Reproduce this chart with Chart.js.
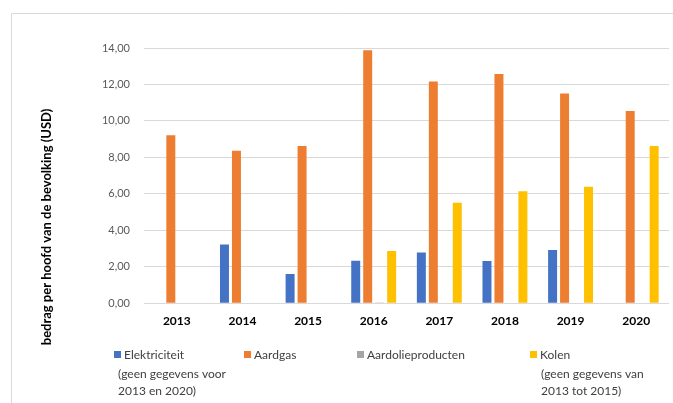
<!DOCTYPE html>
<html>
<head>
<meta charset="utf-8">
<script src="https://cdn.jsdelivr.net/npm/chart.js@4/dist/chart.umd.min.js"></script>
<style>
  html, body { margin: 0; padding: 0; background: #fff; }
  #wrap { width: 673px; height: 403px; position: relative; }
</style>
</head>
<body>
<div id="wrap"><canvas id="c" width="673" height="403"></canvas></div>
<script>
// Jaren op de x-as
const years = ['2013', '2014', '2015', '2016', '2017', '2018', '2019', '2020'];

// Bedrag per hoofd van de bevolking (USD) per energiedrager
const elektriciteit = [null, 3.23, 1.61, 2.34, 2.79, 2.32, 2.92, null];
const aardgas = [9.22, 8.36, 8.62, 13.88, 12.16, 12.58, 11.50, 10.54];
const aardolieproducten = [null, null, null, 0.05, null, null, null, null];
const kolen = [null, null, null, 2.87, 5.51, 6.15, 6.39, 8.62];

// Legenda: naam en eventuele toelichting onder de naam
const seriesNames = ['Elektriciteit', 'Aardgas', 'Aardolieproducten', 'Kolen'];
const seriesNotes = [
  ['(geen gegevens voor', '2013 en 2020)'],
  [],
  [],
  ['(geen gegevens van', '2013 tot 2015)']
];

const yTicks = [0, 2, 4, 6, 8, 10, 12, 14];
const yTitle = 'bedrag per hoofd van de bevolking (USD)';

const colors = ['#4472C4', '#ED7D31', '#A5A5A5', '#FFC000'];
const FONT = 'Lato, "Open Sans", sans-serif';

const nlFormat = v => v.toFixed(2).replace('.', ',');

// Kader, aslabel en legenda
const decor = {
  id: 'decor',
  beforeDraw(chart) {
    const ctx = chart.ctx;
    ctx.save();
    ctx.fillStyle = '#ffffff';
    ctx.fillRect(0, 0, chart.width, chart.height);
    ctx.strokeStyle = '#d9d9d9';
    ctx.lineWidth = 1;
    ctx.beginPath();
    ctx.moveTo(11.5, chart.height + 2);
    ctx.lineTo(11.5, 13.5);
    ctx.lineTo(chart.width + 2, 13.5);
    ctx.stroke();
    ctx.restore();
  },
  afterDraw(chart) {
    const ctx = chart.ctx;
    ctx.save();
    // titel van de y-as
    ctx.translate(47, 227);
    ctx.rotate(-Math.PI / 2);
    ctx.font = 'bold 13px ' + FONT;
    ctx.fillStyle = '#000000';
    ctx.textAlign = 'center';
    ctx.textBaseline = 'middle';
    ctx.fillText(yTitle, 0, 0);
    ctx.restore();

    // legenda
    const boxX = [114, 244, 357, 530];
    const noteX = [118, 0, 0, 541];
    ctx.save();
    ctx.font = '12px ' + FONT;
    ctx.textBaseline = 'middle';
    chart.data.datasets.forEach((ds, i) => {
      ctx.fillStyle = ds.backgroundColor;
      ctx.fillRect(boxX[i], 351, 7, 7);
      ctx.fillStyle = '#404040';
      ctx.textAlign = 'left';
      ctx.fillText(ds.label, boxX[i] + 10, 355.5);
      seriesNotes[i].forEach((line, k) => {
        ctx.fillText(line, noteX[i], 374 + k * 17.5);
      });
    });
    ctx.restore();
  }
};

new Chart(document.getElementById('c'), {
  type: 'bar',
  data: {
    labels: years,
    datasets: [
      { label: seriesNames[0], data: elektriciteit, backgroundColor: colors[0] },
      { label: seriesNames[1], data: aardgas, backgroundColor: colors[1] },
      { label: seriesNames[2], data: aardolieproducten, backgroundColor: colors[2] },
      { label: seriesNames[3], data: kolen, backgroundColor: colors[3] }
    ]
  },
  options: {
    responsive: false,
    animation: false,
    devicePixelRatio: 1,
    categoryPercentage: 0.73,
    barPercentage: 0.75,
    layout: { padding: { left: 0, right: 4, top: 48, bottom: 0 } },
    plugins: {
      legend: { display: false },
      tooltip: { enabled: false }
    },
    scales: {
      x: {
        grid: { display: false, drawTicks: false },
        border: { display: false },
        ticks: {
          padding: 11,
          color: '#000000',
          font: { family: FONT, size: 12, weight: 'bold' }
        },
        afterFit(s) { s.height = 99.7; }
      },
      y: {
        min: 0,
        max: 14,
        grid: { color: '#d9d9d9', lineWidth: 1, drawTicks: false },
        border: { display: false },
        afterBuildTicks(s) { s.ticks = yTicks.map(v => ({ value: v })); },
        ticks: {
          padding: 14,
          color: '#595959',
          font: { family: FONT, size: 11 },
          callback: v => nlFormat(v)
        },
        afterFit(s) { s.width = 144; }
      }
    }
  },
  plugins: [decor]
});
</script>
</body>
</html>
